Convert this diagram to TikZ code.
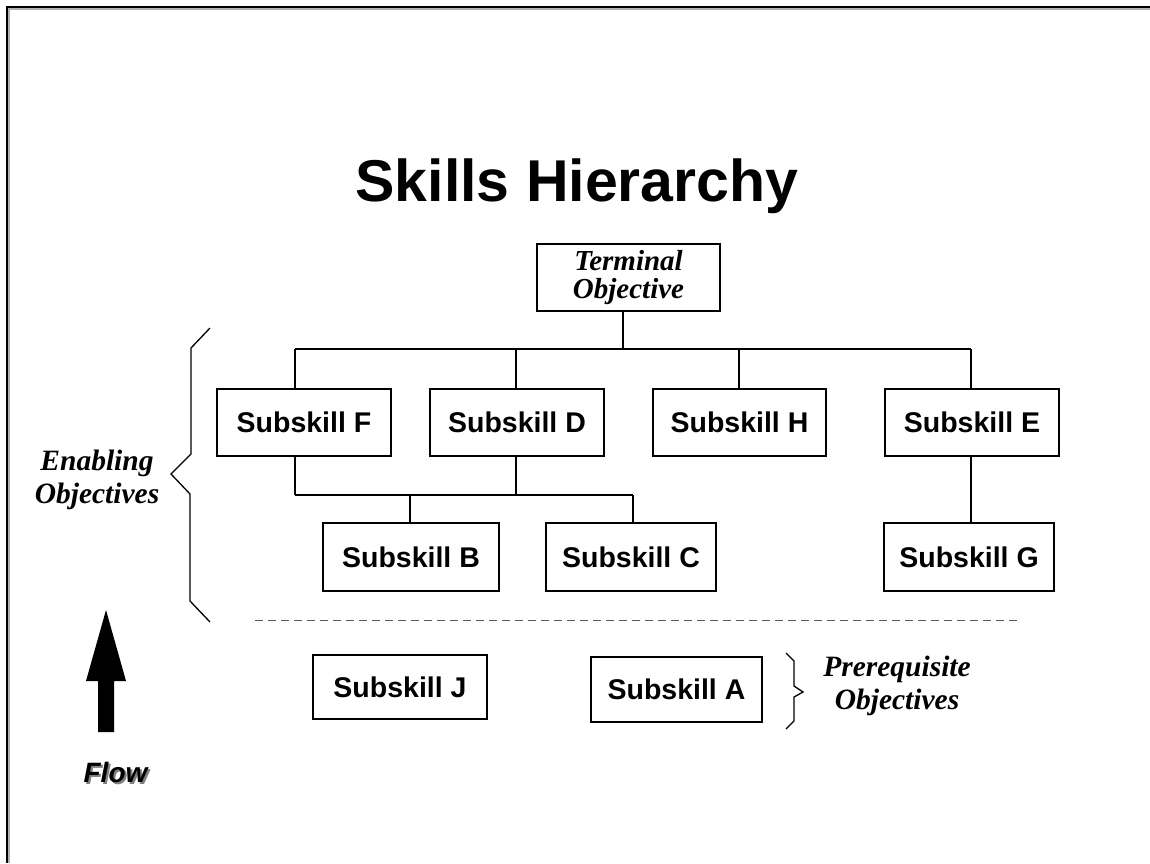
\documentclass[tikz,border=0pt]{standalone}
\usepackage{fontspec}
\setmainfont{Liberation Serif}
\setsansfont{Liberation Sans}
\begin{document}
\begin{tikzpicture}[x=1pt,y=-1pt,
  box/.style={draw, line width=2pt, minimum width=#1, minimum height=67pt, inner sep=0pt,
    font=\sffamily\bfseries\fontsize{28.5}{30}\selectfont},
  conn/.style={line width=1.5pt},
  brace/.style={line width=1.3pt},
  objtext/.style={align=center, font=\bfseries\itshape\fontsize{29.5}{33}\selectfont},
  flowtext/.style={font=\sffamily\bfseries\itshape\fontsize{28}{30}\selectfont}]
\useasboundingbox (0,0) rectangle (1150,863);
% frame
\draw[line width=2pt, gray!60] (8.5,863) -- (8.5,8.5) -- (1150,8.5);
\draw[line width=2.5pt] (7,863) -- (7,7) -- (1150,7);
% title
\node[anchor=base, font=\sffamily\bfseries\fontsize{59}{62}\selectfont] (title) at (577,201) {Skills Hierarchy};
% terminal objective
\node[draw, line width=2pt, minimum width=183pt, minimum height=67pt, inner sep=0pt, align=center,
  font=\bfseries\itshape\fontsize{29}{28}\selectfont] (T) at (628.5,277.5) {Terminal\\Objective};
% enabling boxes
\node[box=174pt] (F) at (304,422.5) {Subskill F};
\node[box=174pt] (D) at (517,422.5) {Subskill D};
\node[box=173pt] (H) at (739.5,422.5) {Subskill H};
\node[box=174pt] (E) at (972,422.5) {Subskill E};
\node[box=176pt, minimum height=68pt] (B) at (411,557) {Subskill B};
\node[box=170pt, minimum height=68pt] (C) at (631,557) {Subskill C};
\node[box=170pt, minimum height=68pt] (G) at (969,557) {Subskill G};
% prerequisite boxes
\node[box=174pt, minimum height=64pt] (J) at (400,687) {Subskill J};
\node[box=171pt, minimum height=65pt] (A) at (676.5,689.5) {Subskill A};
% upper bus
\coordinate (tdown) at (623,349);
\coordinate (busF) at (295,349);
\coordinate (busD) at (516,349);
\coordinate (busH) at (739,349);
\coordinate (busE) at (971,349);
\draw[conn] (T.south -| tdown) -- (tdown);
\draw[conn] (busF) -- (busE);
\draw[conn] (busF) -- (busF |- F.north);
\draw[conn] (busD) -- (busD |- D.north);
\draw[conn] (busH) -- (busH |- H.north);
\draw[conn] (busE) -- (busE |- E.north);
% lower bus
\coordinate (lbF) at (295,495);
\coordinate (lbD) at (516,495);
\coordinate (lbB) at (410,495);
\coordinate (lbC) at (633,495);
\draw[conn] (lbF |- F.south) -- (lbF);
\draw[conn] (lbD |- D.south) -- (lbD);
\draw[conn] (lbF) -- (lbC);
\draw[conn] (lbB) -- (lbB |- B.north);
\draw[conn] (lbC) -- (lbC |- C.north);
% E to G
\coordinate (eg) at (971,456);
\draw[conn] (E.south -| eg) -- (G.north -| eg);
% dashed separator
\draw[gray!70!black, line width=1pt, dash pattern=on 8pt off 5pt] (255,620) -- (1020,620);
% enabling brace
\draw[brace] (210,328) -- (191,348) -- (191,454) -- (171,474) -- (190,494) -- (190,601) -- (210,622);
\node[objtext] (enab) at (97,479.5) {Enabling\\Objectives};
% prerequisite brace
\draw[brace] (786,653) -- (794,661) -- (794,686) -- (803,692) -- (794,697) -- (794,721) -- (786,729);
\node[objtext] (prereq) at (897,686) {Prerequisite\\Objectives};
% flow arrow
\fill (106,610) -- (126,681) -- (114,681) -- (114,732) -- (98,732) -- (98,681) -- (86,681) -- cycle;
\node[flowtext, text=gray] (flowsh) at (117.5,774) {Flow};
\node[flowtext] (flow) at (115.5,772) {Flow};
\end{tikzpicture}
\end{document}
